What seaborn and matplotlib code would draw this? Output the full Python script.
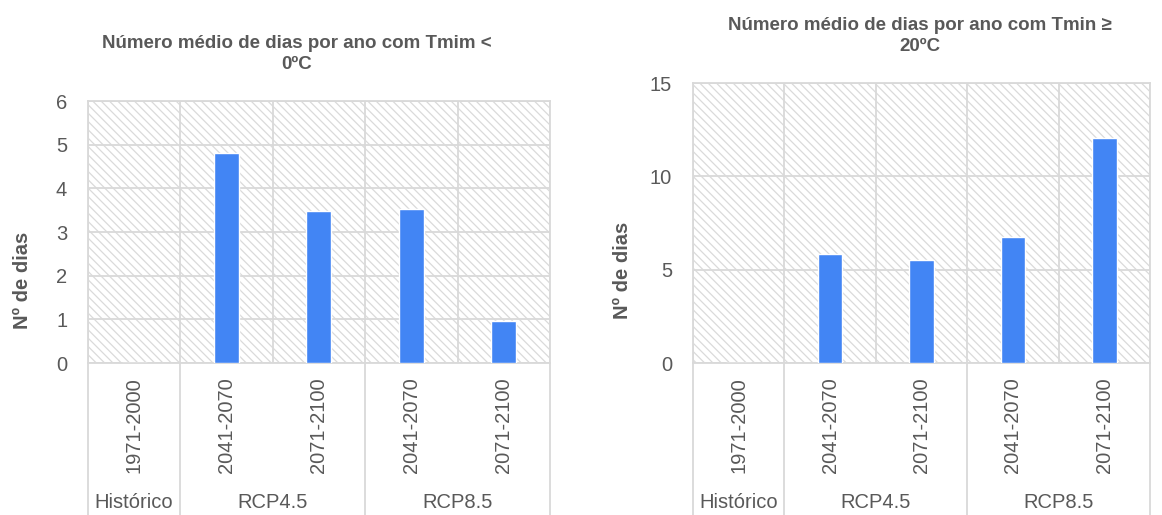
import pandas as pd
import matplotlib.pyplot as plt
import matplotlib.transforms as mtransforms
from matplotlib.patches import Rectangle
import seaborn as sns

# Data
periods = ["1971-2000", "2041-2070", "2071-2100", "2041-2070", "2071-2100"]
scenarios = ["Histórico", "RCP4.5", "RCP4.5", "RCP8.5", "RCP8.5"]
groups = ["Histórico", "RCP4.5", "RCP8.5"]
days_below_0 = [0.0, 4.8, 3.48, 3.52, 0.97]
days_above_20 = [0.0, 5.82, 5.5, 6.73, 12.03]

titles = ["Número médio de dias por ano com Tmim <\n0ºC",
          "Número médio de dias por ano com Tmin ≥\n20ºC"]

sns.set_style("white")
plt.rcParams['font.family'] = ['Liberation Sans', 'DejaVu Sans']
plt.rcParams['hatch.linewidth'] = 0.9

TXT = "#595959"
GRID = "#D9D9D9"
BAR = "#4285F4"


def draw_panel(ax, values, ymax, step, title, title_x, title_y, ylabel_xy):
    df = pd.DataFrame({"cat": [f"{s}|{p}" for s, p in zip(scenarios, periods)],
                       "val": values})
    # hatched background
    ax.add_patch(Rectangle((0, 0), 1, 1, transform=ax.transAxes, facecolor="white",
                           edgecolor="#dadada", hatch="\\\\\\\\", lw=0, zorder=0))
    sns.barplot(data=df, x="cat", y="val", color=BAR, width=0.27, ax=ax,
                saturation=1, zorder=3)
    ax.set_xlim(-0.5, len(periods) - 0.5)
    ax.set_ylim(0, ymax)
    ax.set_yticks(range(0, ymax + 1, step))
    # gridlines
    for y in range(0, ymax + 1, step):
        ax.axhline(y, color=GRID, lw=1.3, zorder=1)
    for x in range(len(periods) + 1):
        ax.axvline(x - 0.5, color=GRID, lw=1.3, zorder=1)
    for sp in ax.spines.values():
        sp.set_color(GRID)
        sp.set_linewidth(1.3)
    ax.set_xticks(range(len(periods)))
    ax.set_xticklabels(periods, rotation=90, fontsize=14.5, color=TXT)
    ax.tick_params(axis="x", length=0, pad=10)
    ax.tick_params(axis="y", length=0, pad=15, labelsize=14.5, labelcolor=TXT)
    ax.set_xlabel("")
    ax.set_ylabel("Nº de dias", fontsize=14.5, fontweight="bold", color=TXT)
    ax.yaxis.set_label_coords(*ylabel_xy)

    # group separators and group labels below the axis
    trans = mtransforms.blended_transform_factory(ax.transData, ax.transAxes)
    trans_fig = mtransforms.blended_transform_factory(ax.transData, ax.figure.transFigure)
    bounds = [-0.5, 0.5, 2.5, 4.5]
    for b in bounds:
        ax.plot([b, b], [0, -0.7], transform=trans, color=GRID, lw=1.3, clip_on=False)
    for g, lo, hi in zip(groups, bounds[:-1], bounds[1:]):
        ax.text((lo + hi) / 2, 1 - 503 / 515, g, transform=trans_fig, ha="center",
                va="center", fontsize=14.5, color=TXT)

    ax.figure.text(title_x, title_y, title, ha="center", va="center", fontsize=13.5,
                   fontweight="bold", color=TXT, linespacing=1.3)


fig = plt.figure(figsize=(11.62, 5.15), dpi=100)
ax1 = fig.add_axes([0.0757, 0.2951, 0.3976, 0.5087])
ax2 = fig.add_axes([0.5964, 0.2951, 0.3933, 0.5437])

draw_panel(ax1, days_below_0, 6, 1, titles[0], 297 / 1162, 1 - 54 / 515, (-0.121, 0.317))
draw_panel(ax2, days_above_20, 15, 5, titles[1], 920 / 1162, 1 - 36 / 515, (-0.133, 0.332))

fig.savefig("out.png", dpi=100)
